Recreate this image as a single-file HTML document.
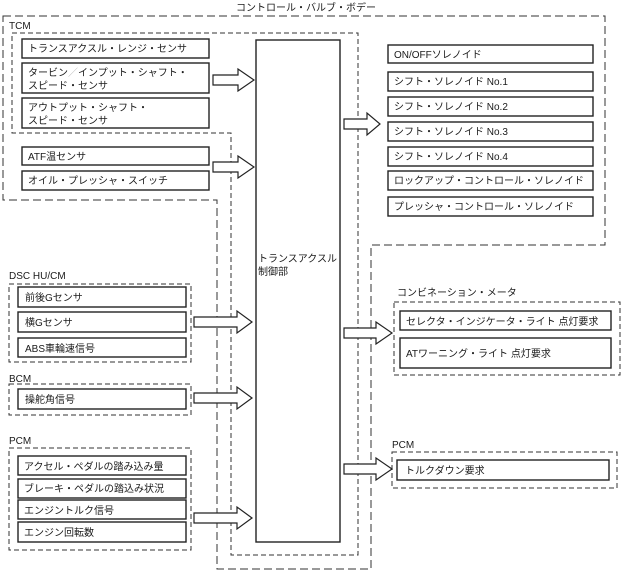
<!DOCTYPE html>
<html><head><meta charset="utf-8"><style>
html,body{margin:0;padding:0;background:#fff}
svg{display:block}
text{font-family:"Liberation Sans","Noto Sans CJK JP",sans-serif;font-size:10px;fill:#1a1a1a}
.b{fill:#fff;stroke:#222;stroke-width:1.4}
.d1{fill:none;stroke:#333;stroke-width:1;stroke-dasharray:8,4}
.d2{fill:none;stroke:#333;stroke-width:1;stroke-dasharray:5,3}
.ar{fill:#fff;stroke:#222;stroke-width:1.2}
</style></head><body>
<svg width="622" height="573" viewBox="0 0 622 573" xmlns="http://www.w3.org/2000/svg">
<!-- control valve body -->
<path class="d1" d="M3,16 H605 V245 H371 V569 H217 V200 H3 Z"/>
<text x="236" y="11">コントロール・バルブ・ボデー</text>
<!-- TCM -->
<path class="d2" d="M12,33 H358 V555 H231 V133 H12 Z"/>
<text x="9" y="29">TCM</text>
<rect class="b" x="22" y="39" width="187" height="19"/>
<text x="28" y="52">トランスアクスル・レンジ・センサ</text>
<rect class="b" x="22" y="63" width="187" height="30"/>
<text x="28" y="76">タービン<tspan fill="#bbb">／</tspan>インプット・シャフト・</text>
<text x="28" y="89">スピード・センサ</text>
<rect class="b" x="22" y="98" width="187" height="30"/>
<text x="28" y="111">アウトプット・シャフト・</text>
<text x="28" y="124">スピード・センサ</text>
<rect class="b" x="22" y="147" width="187" height="18"/>
<text x="28" y="160">ATF温センサ</text>
<rect class="b" x="22" y="171" width="187" height="19"/>
<text x="28" y="184">オイル・プレッシャ・スイッチ</text>
<!-- central -->
<rect class="b" x="256" y="40" width="84" height="502"/>
<text x="258" y="262">トランスアクスル</text>
<text x="258" y="275">制御部</text>
<!-- solenoids -->
<rect class="b" x="388" y="45" width="205" height="18"/><text x="394" y="58">ON/OFFソレノイド</text>
<rect class="b" x="388" y="72" width="205" height="19"/><text x="394" y="85">シフト・ソレノイド No.1</text>
<rect class="b" x="388" y="97" width="205" height="19"/><text x="394" y="110">シフト・ソレノイド No.2</text>
<rect class="b" x="388" y="122" width="205" height="19"/><text x="394" y="135">シフト・ソレノイド No.3</text>
<rect class="b" x="388" y="147" width="205" height="19"/><text x="394" y="160">シフト・ソレノイド No.4</text>
<rect class="b" x="388" y="171" width="205" height="19"/><text x="394" y="184">ロックアップ・コントロール・ソレノイド</text>
<rect class="b" x="388" y="197" width="205" height="19"/><text x="394" y="210">プレッシャ・コントロール・ソレノイド</text>
<!-- DSC -->
<text x="9" y="279">DSC HU/CM</text>
<rect class="d2" x="9" y="284" width="182" height="78"/>
<rect class="b" x="18" y="287" width="168" height="20"/><text x="25" y="301">前後Gセンサ</text>
<rect class="b" x="18" y="312" width="168" height="20"/><text x="25" y="326">横Gセンサ</text>
<rect class="b" x="18" y="338" width="168" height="19"/><text x="25" y="352">ABS車輪速信号</text>
<!-- BCM -->
<text x="9" y="382">BCM</text>
<rect class="d2" x="9" y="384" width="182" height="31"/>
<rect class="b" x="18" y="389" width="168" height="20"/><text x="25" y="403">操舵角信号</text>
<!-- PCM left -->
<text x="9" y="444">PCM</text>
<rect class="d2" x="9" y="448" width="182" height="102"/>
<rect class="b" x="18" y="456" width="168" height="19"/><text x="24" y="470">アクセル・ペダルの踏み込み量</text>
<rect class="b" x="18" y="479" width="168" height="19"/><text x="24" y="492">ブレーキ・ペダルの踏込み状況</text>
<rect class="b" x="18" y="500" width="168" height="19"/><text x="24" y="514">エンジントルク信号</text>
<rect class="b" x="18" y="522" width="168" height="20"/><text x="24" y="536">エンジン回転数</text>
<!-- combination meter -->
<text x="397" y="296">コンビネーション・メータ</text>
<rect class="d2" x="394" y="302" width="226" height="73"/>
<rect class="b" x="400" y="311" width="211" height="19"/><text x="406" y="325">セレクタ・インジケータ・ライト 点灯要求</text>
<rect class="b" x="400" y="338" width="211" height="30"/><text x="406" y="357">ATワーニング・ライト 点灯要求</text>
<!-- PCM right -->
<text x="392" y="448">PCM</text>
<rect class="d2" x="392" y="452" width="225" height="36"/>
<rect class="b" x="397" y="460" width="212" height="20"/><text x="405" y="474">トルクダウン要求</text>
<!-- arrows -->
<path class="ar" d="M213,75 H238 V69 L254,80 L238,91 V85 H213 Z"/>
<path class="ar" d="M213,162 H238 V156 L254,167 L238,178 V172 H213 Z"/>
<path class="ar" d="M194,317 H237 V311 L252,322 L237,333 V327 H194 Z"/>
<path class="ar" d="M194,393 H237 V387 L252,398 L237,409 V403 H194 Z"/>
<path class="ar" d="M194,513 H237 V507 L252,518 L237,529 V523 H194 Z"/>
<path class="ar" d="M344,119 H367 V113 L380,124 L367,135 V129 H344 Z"/>
<path class="ar" d="M344,328 H376 V322 L392,333 L376,344 V338 H344 Z"/>
<path class="ar" d="M344,464 H376 V458 L392,469 L376,480 V474 H344 Z"/>
</svg>
</body></html>
